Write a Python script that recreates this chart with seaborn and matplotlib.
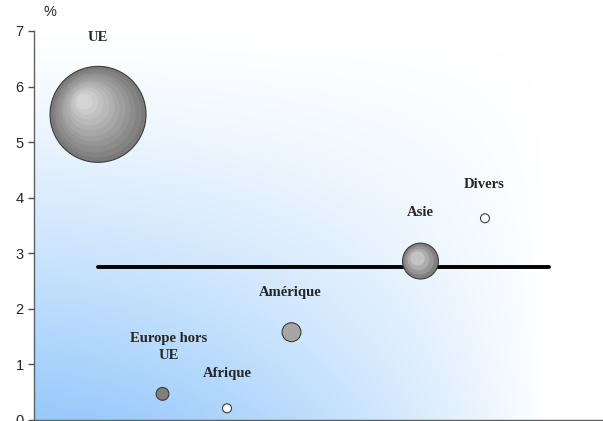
import matplotlib
matplotlib.use('Agg')
import matplotlib.pyplot as plt
import matplotlib.transforms as mtransforms
from matplotlib.colors import LinearSegmentedColormap, to_rgb
import numpy as np
import pandas as pd
import seaborn as sns

# data
regions = ['UE', 'Europe hors\nUE', 'Afrique', 'Amérique', 'Asie', 'Divers']
positions = [1, 2, 3, 4, 6, 7]
taux = [5.50, 0.47, 0.21, 1.58, 2.86, 3.63]
poids = [100, 1.8, 0.9, 3.9, 14, 0.9]
moyenne_x = [1, 8]
moyenne_y = [2.76, 2.76]
y_ticks = [0, 1, 2, 3, 4, 5, 6, 7]

# label placement (data coords)
label_pos = {
    'UE': (1.0, 6.88),
    'Europe hors\nUE': (2.1, 1.31),
    'Afrique': (3.0, 0.83),
    'Amérique': (3.98, 2.30),
    'Asie': (6.0, 3.74),
    'Divers': (6.98, 4.24),
}
fill_colors = {
    'UE': '#7a7a7a',
    'Europe hors\nUE': '#7f7f7f',
    'Afrique': '#ffffff',
    'Amérique': '#a6a6a6',
    'Asie': '#808080',
    'Divers': '#ffffff',
}
SIZE_RANGE = (42, 4776)
SIZE_NORM = (0.9, 100)


def marker_area(p):
    return SIZE_RANGE[0] + (p - SIZE_NORM[0]) / (SIZE_NORM[1] - SIZE_NORM[0]) * (SIZE_RANGE[1] - SIZE_RANGE[0])


def main() -> None:
    sns.set_style('ticks')
    plt.rcParams['font.family'] = ['Liberation Sans', 'DejaVu Sans']

    df = pd.DataFrame({'region': regions, 'pos': positions, 'taux': taux, 'poids': poids})
    line_df = pd.DataFrame({'x': moyenne_x, 'y': moyenne_y})

    fig = plt.figure(figsize=(6.03, 4.21), dpi=100)
    ax = fig.add_axes([0.0556, 0.0024, 0.9444, 0.924])

    # background gradient: blue bottom-left to white top-right
    u = np.linspace(0, 1, 300)
    v = np.linspace(0, 1, 300)
    U, V = np.meshgrid(u, v)
    t = np.clip(1 - (U / 0.9) ** 1.6, 0, 1) * (1 - V) ** 1.25
    cmap = LinearSegmentedColormap.from_list('bg', ['#ffffff', '#97c9fb'])
    ax.imshow(t, cmap=cmap, vmin=0, vmax=1, origin='lower', extent=(0, 1, 0, 1),
              transform=ax.transAxes, aspect='auto', zorder=0, interpolation='bilinear')

    sns.lineplot(data=line_df, x='x', y='y', color='black', linewidth=2.8, ax=ax, zorder=2)

    sns.scatterplot(data=df, x='pos', y='taux', hue='region', palette=fill_colors,
                    size='poids', sizes=SIZE_RANGE, size_norm=SIZE_NORM,
                    edgecolor='#3c3c3c', linewidth=0.8, alpha=1, legend=False, ax=ax, zorder=3)

    # shading layers for the larger bubbles
    shading = {'UE': ('#7a7a7a', '#d4d4d4', 10, 0.17), 'Asie': ('#808080', '#c4c4c4', 3, 0.14)}
    for _, row in df.iterrows():
        if row['region'] not in shading:
            continue
        c0, c1, n, off = shading[row['region']]
        c0, c1 = np.array(to_rgb(c0)), np.array(to_rgb(c1))
        diam = np.sqrt(marker_area(row['poids']))
        for k in range(1, n + 1):
            f = 1 - k / (n + 2.0)
            shift = (1 - f) * diam * off
            tr = mtransforms.offset_copy(ax.transData, fig=fig, x=-shift, y=shift, units='points')
            col = c0 + (c1 - c0) * k / n
            ax.scatter([row['pos']], [row['taux']], s=(diam * f) ** 2, color=col,
                       linewidths=0, transform=tr, zorder=4)

    for name, (lx, ly) in label_pos.items():
        ax.text(lx, ly, name, ha='center', va='center', fontsize=10.5, fontweight='bold',
                family=['Liberation Serif', 'DejaVu Serif'], linespacing=1.45, zorder=5)

    ax.text(0.017, 1.05, '%', transform=ax.transAxes, ha='left', va='center', fontsize=10.5)

    ax.set_xlim(0, 8.83)
    ax.set_ylim(0, 7)
    ax.set_yticks(y_ticks)
    ax.set_xticks([])
    ax.set_xlabel('')
    ax.set_ylabel('')
    ax.tick_params(axis='y', direction='out', length=4, width=1, color='#505050',
                   labelsize=10.5, pad=3)
    for side in ['top', 'right']:
        ax.spines[side].set_visible(False)
    for side in ['left', 'bottom']:
        ax.spines[side].set_color('#606060')
        ax.spines[side].set_linewidth(1)
    ax.set_axisbelow(False)

    fig.savefig('out.png', dpi=100)


if __name__ == '__main__':
    main()
